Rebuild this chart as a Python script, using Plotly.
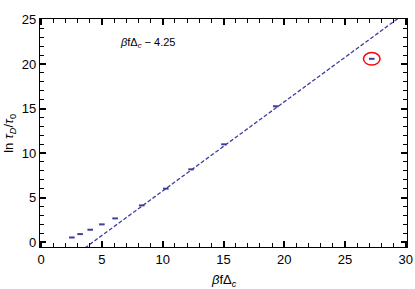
import plotly.graph_objects as go

# data points
x_pts = [2.52, 3.2, 4.03, 4.99, 6.08, 8.27, 10.25, 12.33, 15.04, 19.3, 27.2]
y_pts = [0.52, 0.9, 1.39, 1.99, 2.66, 4.12, 6.0, 8.17, 10.98, 15.25, 20.58]

# fit line: y = x - 4.25
fit_slope = 1.0
fit_intercept = -4.25
fit_x = [0, 30]
fit_y = [fit_slope * v + fit_intercept for v in fit_x]

# highlighted point
hl_x = 27.2
hl_y = 20.58

# axis ticks
x_major = list(range(0, 31, 5))
y_major = list(range(0, 26, 5))

x_range = [-0.1, 30.1]
y_range = [-0.55, 25.05]

color = "#3d3d9e"
FONT = "Liberation Sans, Arial"

fig = go.Figure()
fig.add_trace(go.Scatter(x=fit_x, y=fit_y, mode="lines",
                         line=dict(color=color, width=1.3, dash="4px,2px"),
                         showlegend=False))
fig.add_trace(go.Scatter(x=x_pts, y=y_pts, mode="markers",
                         marker=dict(symbol="line-ew", size=4, color=color,
                                     line=dict(color=color, width=2)),
                         showlegend=False))

fig.add_shape(type="circle", xref="x", yref="y",
              x0=hl_x - 0.68, x1=hl_x + 0.68, y0=hl_y - 0.7, y1=hl_y + 0.7,
              line=dict(color="red", width=1.5))

fig.add_annotation(x=6.3, y=22.4, xref="x", yref="y", xanchor="left",
                   text="<i>β</i>fΔ<sub><i>c</i></sub> − 4.25", showarrow=False,
                   font=dict(family=FONT, size=11, color="black"))

# axis titles as annotations
fig.add_annotation(x=0.5, y=-0.1, xref="paper", yref="paper", xanchor="center", yanchor="top",
                   text="<i>β</i>fΔ<sub><i>c</i></sub>", showarrow=False,
                   font=dict(family=FONT, size=13, color="black"))
fig.add_annotation(x=-0.085, y=0.5, xref="paper", yref="paper", xanchor="center", yanchor="middle",
                   text="ln <i>τ</i><sub><i>D</i></sub>/<i>τ</i><sub>0</sub>", showarrow=False,
                   textangle=-90, font=dict(family=FONT, size=13, color="black"))

common = dict(showgrid=False, zeroline=False, automargin=False,
              ticks="inside", ticklen=6, tickwidth=1.5, tickcolor="black",
              showline=True, linecolor="black", linewidth=1.3, mirror="allticks",
              minor=dict(ticks="inside", ticklen=3.5, tickwidth=1.2, tickcolor="black",
                         dtick=1, showgrid=False),
              tickfont=dict(family=FONT, size=13, color="black"))

fig.update_layout(
    width=415, height=289,
    margin=dict(l=40, r=8, t=19, b=42),
    plot_bgcolor="white", paper_bgcolor="white",
    font=dict(family=FONT),
    xaxis=dict(range=x_range, tickvals=x_major, **common),
    yaxis=dict(range=y_range, tickvals=y_major, **common),
)

fig.write_html("out.html", config={"displayModeBar": False},
               post_script="document.body.style.margin='0';document.body.style.padding='0';")
